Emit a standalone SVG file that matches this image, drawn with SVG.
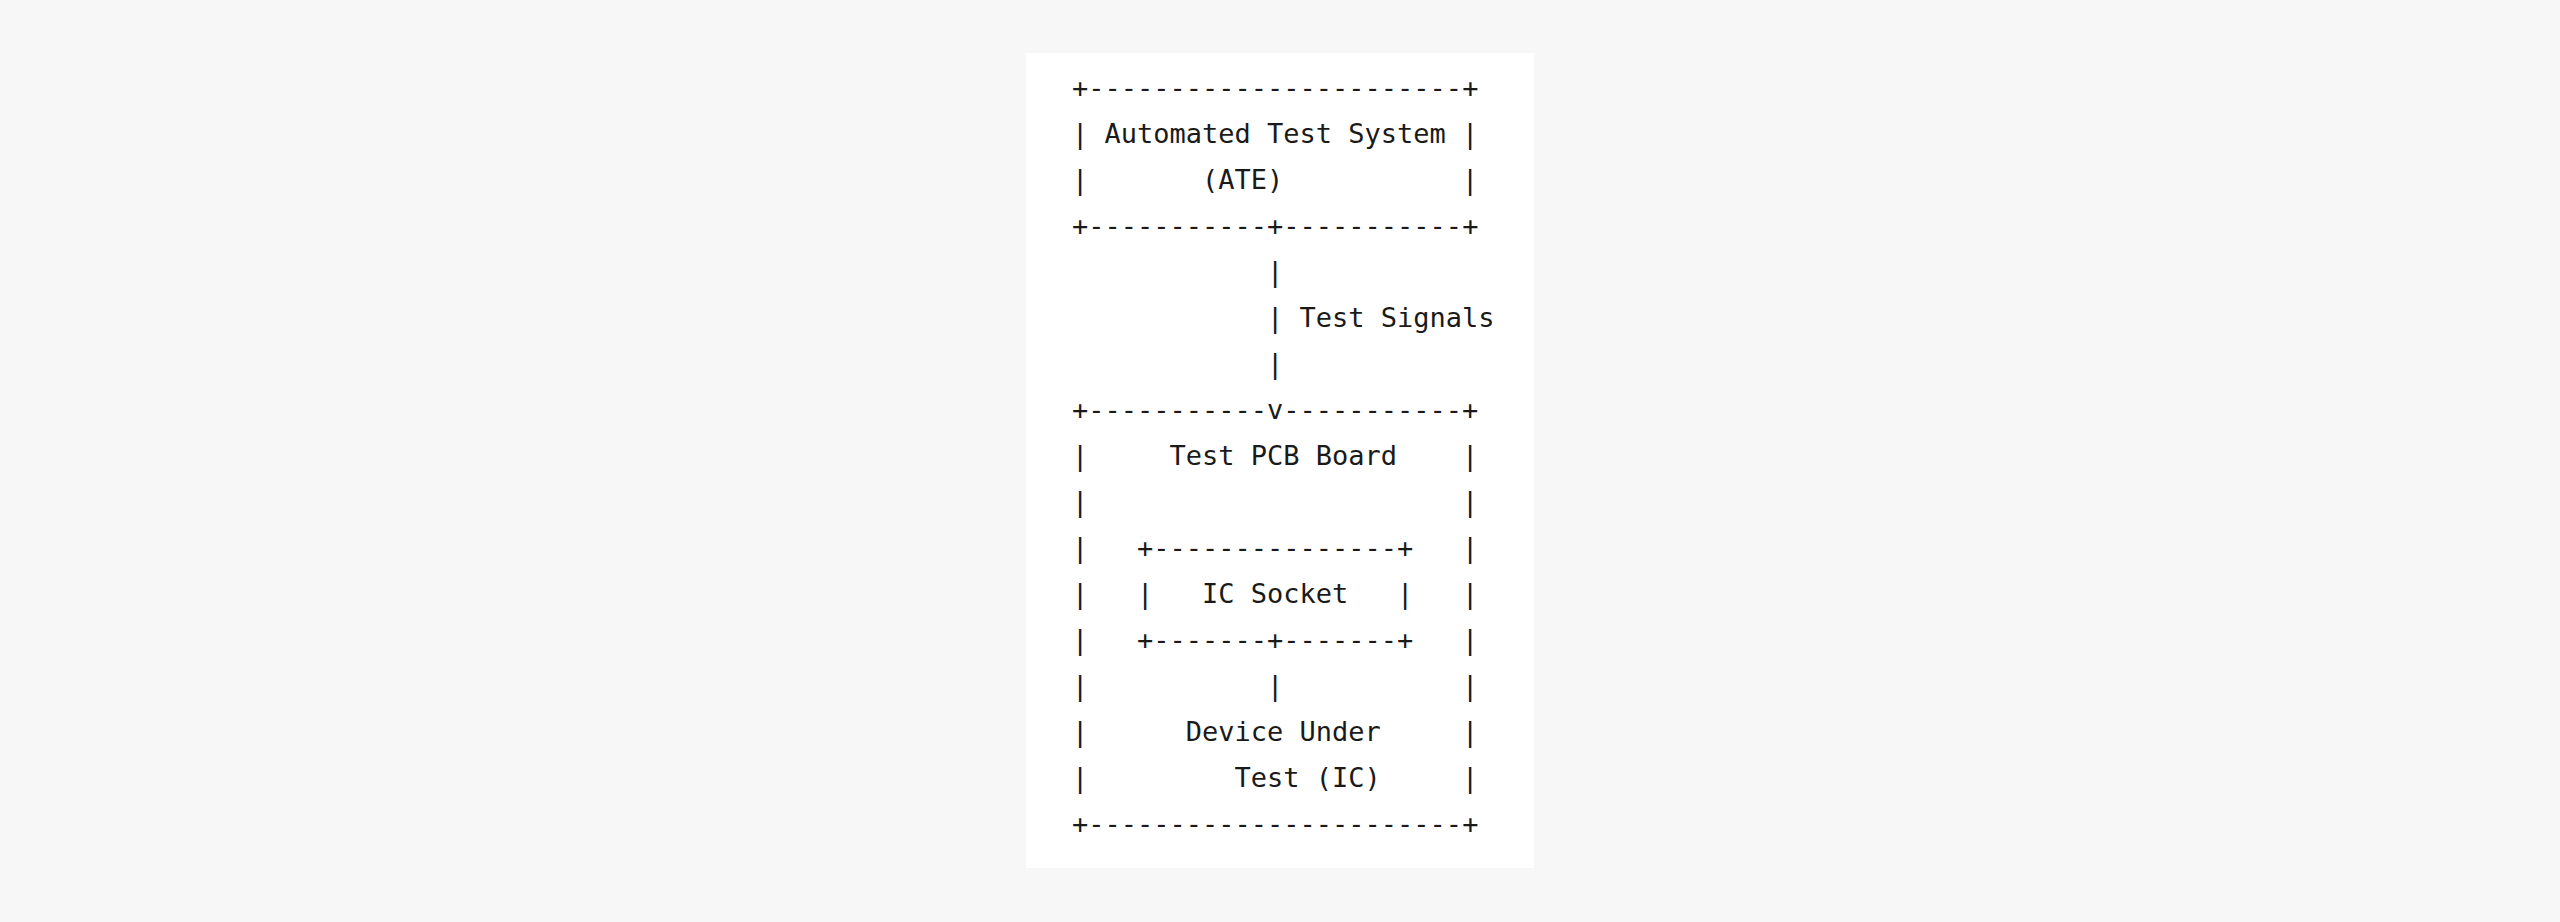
<svg xmlns="http://www.w3.org/2000/svg" width="2560" height="922" viewBox="0 0 2560 922">
<style>
text{font-family:"DejaVu Sans Mono","Liberation Mono",monospace;font-size:27px;fill:#1a1a1a;white-space:pre;}
</style>
<rect x="0" y="0" width="2560" height="922" fill="#f7f7f7"/>
<rect x="1026" y="53" width="508" height="815" fill="#ffffff"/>
<g id="ate">
<text x="1072" y="97">+-----------------------+</text>
<text x="1072" y="143">|</text>
<text x="1104.5" y="143">Automated Test System</text>
<text x="1462" y="143">|</text>
<text x="1072" y="189">|</text>
<text x="1202" y="189">(ATE)</text>
<text x="1462" y="189">|</text>
<text x="1072" y="235">+-----------+-----------+</text>
</g>
<g id="connectors">
<text x="1267" y="281">|</text>
<text x="1267" y="327">|</text>
<text x="1299.5" y="327">Test Signals</text>
<text x="1267" y="373">|</text>
<text x="1267" y="419">v</text>
<text x="1267" y="695">|</text>
</g>
<g id="pcb-board">
<text x="1072" y="419">+-----------</text>
<text x="1283.25" y="419">-----------+</text>
<text x="1072" y="465">|</text><text x="1462" y="465">|</text>
<text x="1072" y="511">|</text><text x="1462" y="511">|</text>
<text x="1072" y="557">|</text><text x="1462" y="557">|</text>
<text x="1072" y="603">|</text><text x="1462" y="603">|</text>
<text x="1072" y="649">|</text><text x="1462" y="649">|</text>
<text x="1072" y="695">|</text><text x="1462" y="695">|</text>
<text x="1072" y="741">|</text><text x="1462" y="741">|</text>
<text x="1072" y="787">|</text><text x="1462" y="787">|</text>
<text x="1169.5" y="465">Test PCB Board</text>
<text x="1072" y="833">+-----------------------+</text>
</g>
<g id="ic-socket">
<text x="1137" y="557">+---------------+</text>
<text x="1137" y="603">|</text>
<text x="1202" y="603">IC Socket</text>
<text x="1397" y="603">|</text>
<text x="1137" y="649">+-------+-------+</text>
</g>
<g id="dut">
<text x="1185.75" y="741">Device Under</text>
<text x="1234.5" y="787">Test (IC)</text>
</g>
</svg>
